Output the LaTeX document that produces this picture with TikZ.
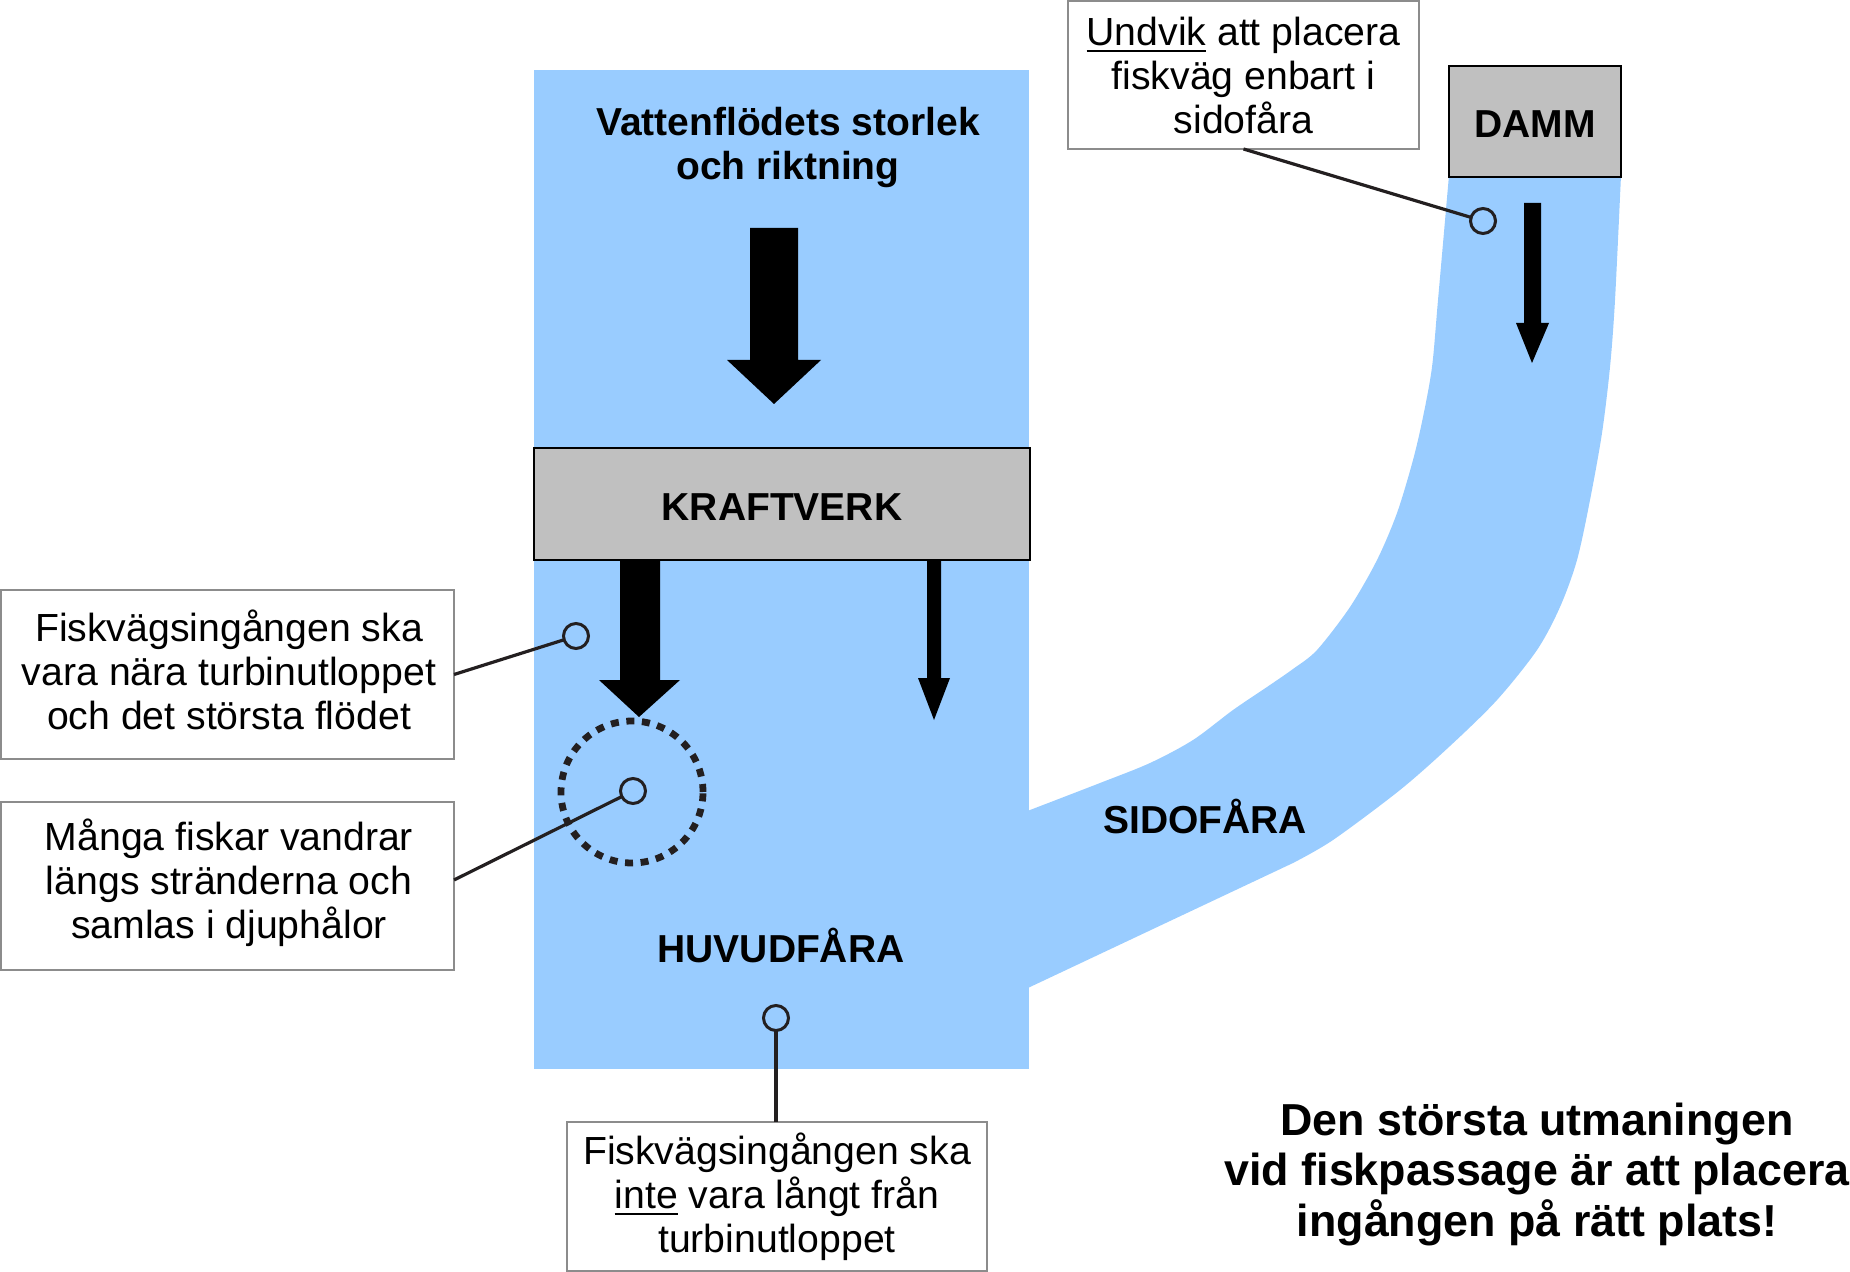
\documentclass[tikz,border=0pt]{standalone}
\usepackage{fontspec}
\setmainfont{Liberation Sans}
\definecolor{water}{HTML}{99CCFF}
\definecolor{grayfill}{HTML}{C0C0C0}
\definecolor{ink}{HTML}{231F20}
\definecolor{boxline}{HTML}{8C8C8C}
\newcommand\myul[1]{\setbox0\hbox{#1}\rlap{\rule[-3.5pt]{\wd0}{1pt}}\box0\relax}
\begin{document}
\begin{tikzpicture}[x=0.5pt,y=-0.5pt,
  lbl/.style={font=\fontsize{19.6}{22}\selectfont, align=center},
  ttl/.style={font=\bfseries\fontsize{19.5}{22}\selectfont, align=center},
  notebox/.style={draw=boxline, line width=0.75pt, fill=white, inner sep=0pt, outer sep=0pt, lbl},
  grbox/.style={draw=black, line width=1.2pt, fill=grayfill, inner sep=0pt, outer sep=0pt, ttl},
  pin/.style={circle, draw=ink, line width=1.5pt, minimum size=12.5pt, inner sep=0pt, outer sep=0pt},
  conn/.style={draw=ink, line width=1.6pt},
  flow/.style={fill=black}
]
\useasboundingbox (0,0) rectangle (1850,1272);

% water
\fill[water] (534,70) rectangle (1029,1069);
\fill[water] (1000,822) -- (1030,810)
  -- plot[smooth,tension=0.5] coordinates {(1030,810) (1100,783) (1150,763) (1193,740) (1233,710) (1267,687) (1293,669) (1317,650) (1350,607) (1377,560) (1397,513) (1413,460) (1423,417) (1432,367) (1438,300) (1449,175)}
  -- (1621,175)
  -- plot[smooth,tension=0.5] coordinates {(1621,175) (1615,300) (1610,367) (1602,433) (1590,500) (1577,560) (1560,607) (1537,650) (1497,700) (1450,746) (1400,790) (1333,840) (1293,863)}
  -- (1030,987) -- (1000,1001) -- cycle;

% title
\node[ttl] (title) at (788,147.5) {Vattenflödets storlek\\och riktning};

% big arrow
\fill[flow] (750,228) -- (798,228) -- (798,360) -- (821,360) -- (774,404) -- (727,360) -- (750,360) -- cycle;

% boxes
\node[grbox, minimum width=248pt, minimum height=56pt] (kraft) at (782,504) {};
\node[ttl] (kraftt) at (782,507.5) {KRAFTVERK};
\node[grbox, minimum width=86pt, minimum height=55.5pt] (damm) at (1535,121.5) {};
\node[ttl] (dammt) at (1535,124) {DAMM};

% turbine arrows
\fill[flow] (620,560) -- (660,560) -- (660,680) -- (680,680) -- (639,717) -- (599,680) -- (620,680) -- cycle;
\fill[flow] (927,560) -- (941,560) -- (941,678) -- (950,678) -- (934,720) -- (918,678) -- (927,678) -- cycle;
% damm arrow
\fill[flow] (1524,203) -- (1541,203) -- (1541,323) -- (1549,323) -- (1532,363) -- (1516,323) -- (1524,323) -- cycle;

% channel labels
\node[ttl] (huvud) at (781,945.5) {HUVUDFÅRA};
\node[ttl] (sido) at (1205,816.5) {SIDOFÅRA};

% dotted circle
\draw[ink, line width=3.4pt, dash pattern=on 4pt off 3.8pt] (632,792) circle[radius=35.5pt];

% pins
\node[pin] (p1) at (576,636) {};
\node[pin] (p2) at (633,791) {};
\node[pin] (p3) at (776,1018) {};
\node[pin] (p4) at (1483,221) {};

% note boxes
\node[notebox, minimum width=226.5pt, minimum height=84.5pt] (n1) at (227.5,674.5) {};
\node[lbl] (t1) at (229,669.5) {Fiskvägsingången ska\\vara nära turbinutloppet\\och det största flödet};
\node[notebox, minimum width=226.5pt, minimum height=84pt] (n2) at (227.5,886) {};
\node[lbl] (t2) at (229,883) {Många fiskar vandrar\\längs stränderna och\\samlas i djuphålor};
\node[notebox, minimum width=210pt, minimum height=74.5pt] (n3) at (777,1196.5) {Fiskvägsingången ska\\\myul{inte} vara långt från\\turbinutloppet};
\node[notebox, minimum width=175.5pt, minimum height=74pt] (n4) at (1243.5,75) {\myul{Undvik} att placera\\fiskväg enbart i\\sidofåra};

% connectors
\draw[conn] (n1.east) -- (p1);
\draw[conn] ([yshift=3pt]n2.east) -- (p2);
\draw[conn] (n3.north -| p3) -- (p3);
\draw[conn] (n4.south) -- (p4);

% conclusion
\node[font=\bfseries\fontsize{22.4}{25.4}\selectfont, align=center] (concl) at (1537,1174.5) {Den största utmaningen\\vid fiskpassage är att placera\\ingången på rätt plats!};
\end{tikzpicture}
\end{document}
